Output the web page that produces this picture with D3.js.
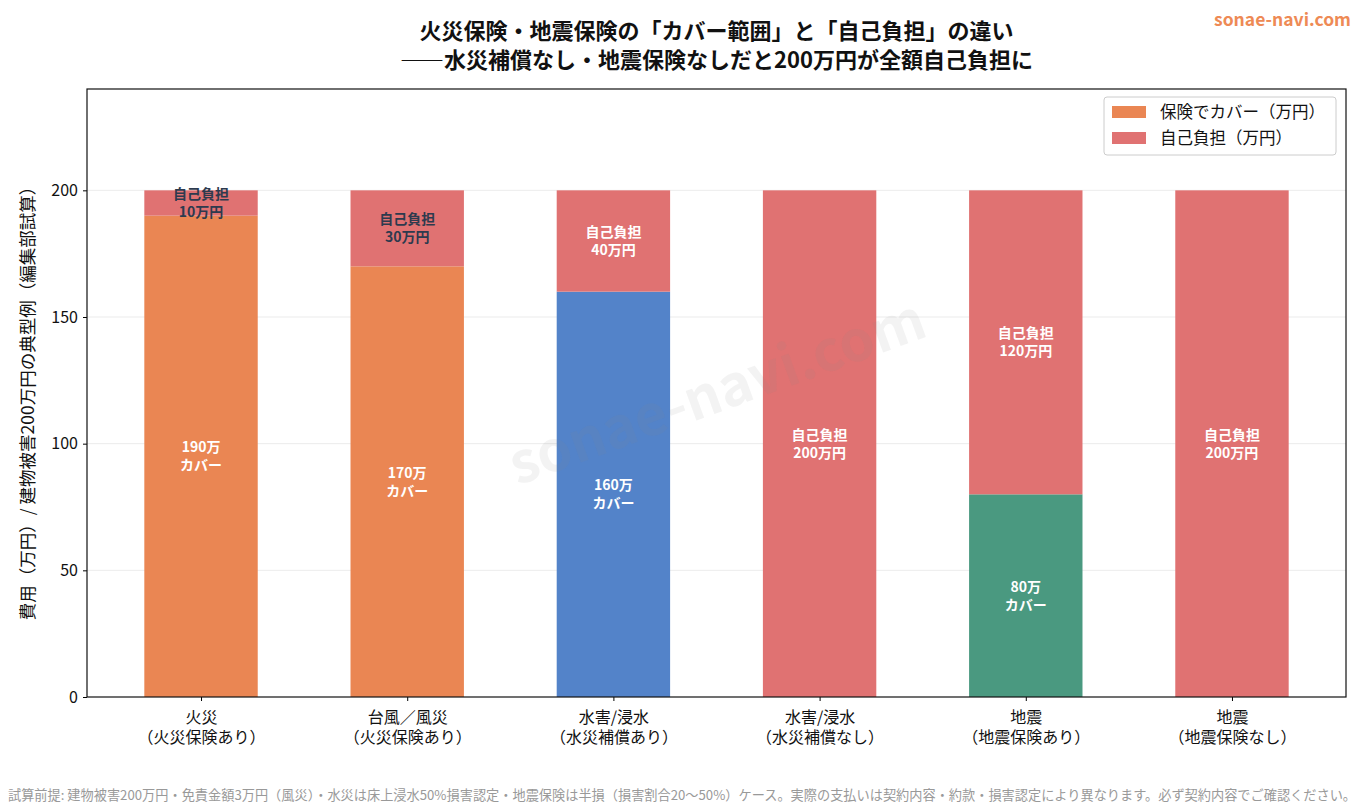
<!DOCTYPE html>
<html>
<head>
<meta charset="utf-8">
<script src="https://cdn.jsdelivr.net/npm/d3@7"></script>
<style>
  body { margin: 0; background: #fff; font-family: "Noto Sans CJK JP", "Noto Sans", sans-serif; }
  svg text { font-family: "Noto Sans CJK JP", "Noto Sans", sans-serif; }
</style>
</head>
<body>
<div id="chart"></div>
<script>
// 火災・地震保険のカバー範囲 vs 自己負担 stacked bars

const categories = [
  "火災\n（火災保険あり）",
  "台風／風災\n（火災保険あり）",
  "水害/浸水\n（水災補償あり）",
  "水害/浸水\n（水災補償なし）",
  "地震\n（地震保険あり）",
  "地震\n（地震保険なし）",
];
const covered = [190, 170, 160, 0, 80, 0];
const selfPay = [10, 30, 40, 200, 120, 200];
const coverColors = ["#EA8653", "#EA8653", "#5383C9", "#EA8653", "#4A9980", "#EA8653"];
const yTicks = [0, 50, 100, 150, 200];

const W = 1365, H = 806;
const margin = { top: 89, right: 19, bottom: 109, left: 87 };
const SELF_COLOR = "#E07272";

const svg = d3.select("#chart").append("svg")
  .attr("width", W).attr("height", H).attr("viewBox", `0 0 ${W} ${H}`);

const x = d3.scaleLinear().domain([-0.553, categories.length - 1 + 0.553])
  .range([margin.left, W - margin.right]);
const y = d3.scaleLinear().domain([0, 240]).range([H - margin.bottom, margin.top]);
const bw = x(0.55) - x(0);

// gridlines
svg.append("g").selectAll("line").data(yTicks.slice(1)).join("line")
  .attr("x1", margin.left).attr("x2", W - margin.right)
  .attr("y1", d => y(d)).attr("y2", d => y(d))
  .attr("stroke", "#e6e6e6").attr("stroke-width", 0.8);

const data = categories.map((c, i) => ({ c, i, cov: covered[i], self: selfPay[i], color: coverColors[i] }));

const gBars = svg.append("g");
gBars.selectAll("rect.cov").data(data.filter(d => d.cov > 0)).join("rect")
  .attr("class", "cov")
  .attr("x", d => x(d.i) - bw / 2).attr("width", bw)
  .attr("y", d => y(d.cov)).attr("height", d => y(0) - y(d.cov))
  .attr("fill", d => d.color);
gBars.selectAll("rect.self").data(data).join("rect")
  .attr("class", "self")
  .attr("x", d => x(d.i) - bw / 2).attr("width", bw)
  .attr("y", d => y(d.cov + d.self)).attr("height", d => y(d.cov) - y(d.cov + d.self))
  .attr("fill", SELF_COLOR);

// segment labels
function twoLine(g, cx, cy, l1, l2, fill) {
  const t = g.append("text").attr("text-anchor", "middle").attr("font-size", 14)
    .attr("font-weight", "bold").attr("fill", fill);
  t.append("tspan").attr("x", cx).attr("y", cy - 9).attr("dy", "0.35em").text(l1);
  t.append("tspan").attr("x", cx).attr("y", cy + 9).attr("dy", "0.35em").text(l2);
}
const gLab = svg.append("g");
data.forEach(d => {
  if (d.cov > 0) twoLine(gLab, x(d.i), y(d.cov / 2), d.cov + "万", "カバー", "#fff");
  twoLine(gLab, x(d.i), y(d.cov + d.self / 2), "自己負担", d.self + "万円",
    d.self < 40 ? "#2d3a4e" : "#fff");
});

// axes
const gY = svg.append("g").attr("transform", `translate(${margin.left},0)`)
  .call(d3.axisLeft(y).tickValues(yTicks).tickSize(4).tickPadding(5));
gY.select(".domain").remove();
gY.selectAll("text").attr("font-size", 16).attr("fill", "#111");

const gX = svg.append("g").attr("transform", `translate(0,${H - margin.bottom})`)
  .call(d3.axisBottom(x).tickValues(d3.range(categories.length)).tickSize(4).tickFormat(""));
gX.select(".domain").remove();
gX.selectAll(".tick").each(function (d) {
  const lines = categories[d].split("\n");
  const t = d3.select(this).append("text").attr("text-anchor", "middle")
    .attr("font-size", 16).attr("fill", "#111");
  lines.forEach((l, k) => t.append("tspan").attr("x", 0).attr("y", 26 + k * 20).text(l));
});

// frame
svg.append("rect").attr("x", margin.left).attr("y", margin.top)
  .attr("width", W - margin.left - margin.right).attr("height", H - margin.top - margin.bottom)
  .attr("fill", "none").attr("stroke", "#111").attr("stroke-width", 1.2);

// y title
svg.append("text").attr("transform", `translate(28,${(margin.top + H - margin.bottom) / 2 + 6}) rotate(-90)`)
  .attr("text-anchor", "middle").attr("dy", "0.35em").attr("font-size", 17.5).attr("fill", "#111")
  .text("費用（万円）/ 建物被害200万円の典型例（編集部試算）");

// title
const title = svg.append("text").attr("text-anchor", "middle").attr("font-size", 22)
  .attr("font-weight", "bold").attr("fill", "#111");
title.append("tspan").attr("x", (margin.left + W - margin.right) / 2).attr("y", 39)
  .text("火災保険・地震保険の「カバー範囲」と「自己負担」の違い");
title.append("tspan").attr("x", (margin.left + W - margin.right) / 2).attr("y", 68)
  .text("――水災補償なし・地震保険なしだと200万円が全額自己負担に");

svg.append("text").attr("x", 1351).attr("y", 26).attr("text-anchor", "end")
  .attr("font-size", 17.5).attr("font-weight", "bold").attr("fill", "#EE8A55")
  .text("sonae-navi.com");

// legend
const lg = svg.append("g").attr("transform", "translate(1104,97)");
lg.append("rect").attr("width", 232).attr("height", 58).attr("rx", 3)
  .attr("fill", "#fff").attr("fill-opacity", 0.85).attr("stroke", "#ccc");
const legendItems = [["保険でカバー（万円）", "#EA8653"], ["自己負担（万円）", SELF_COLOR]];
legendItems.forEach(([label, c], k) => {
  lg.append("rect").attr("x", 8).attr("y", 9 + k * 26).attr("width", 34).attr("height", 12).attr("fill", c);
  lg.append("text").attr("x", 56).attr("y", 15 + k * 26).attr("dy", "0.35em")
    .attr("font-size", 16.5).attr("fill", "#111").text(label);
});

// watermark
svg.append("text").attr("transform", "translate(717,392) rotate(-20)")
  .attr("text-anchor", "middle").attr("dy", "0.35em")
  .attr("font-size", 56).attr("font-weight", "bold").attr("fill", "#888").attr("fill-opacity", 0.1)
  .text("sonae-navi.com");

// footnote
svg.append("text").attr("x", 8).attr("y", 800).attr("font-size", 13.2).attr("fill", "#999")
  .text("試算前提: 建物被害200万円・免責金額3万円（風災）・水災は床上浸水50%損害認定・地震保険は半損（損害割合20〜50%）ケース。実際の支払いは契約内容・約款・損害認定により異なります。必ず契約内容でご確認ください。");
</script>
</body>
</html>
